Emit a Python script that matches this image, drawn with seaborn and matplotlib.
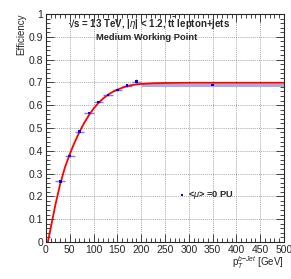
import numpy as np
import matplotlib
matplotlib.use("Agg")
import matplotlib.pyplot as plt
import seaborn as sns
from matplotlib.ticker import MultipleLocator

sns.set_style("ticks")
plt.rcParams['font.family'] = ['Liberation Sans', 'DejaVu Sans']
plt.rcParams['mathtext.fontset'] = 'custom'
plt.rcParams['mathtext.rm'] = 'Liberation Sans:bold'
plt.rcParams['mathtext.it'] = 'Liberation Sans:italic'
plt.rcParams['mathtext.bf'] = 'Liberation Sans:bold'

# ---------- data ----------
pt_center = [30, 50, 70, 90, 110, 130, 150, 170, 190, 350]
pt_halfwidth = [10, 10, 10, 10, 10, 10, 10, 10, 10, 150]
eff = [0.266, 0.376, 0.484, 0.565, 0.613, 0.645, 0.666, 0.685, 0.703, 0.689]
eff_err = [0.004, 0.004, 0.004, 0.004, 0.004, 0.004, 0.004, 0.004, 0.01, 0.002]

fit_pt = [4, 20, 30, 40, 50, 60, 70, 80, 90, 100, 110, 120, 130, 140, 150,
          160, 170, 180, 200, 225, 250, 300, 400, 500]
fit_eff = [0.0, 0.165, 0.255, 0.328, 0.385, 0.436, 0.481, 0.521, 0.555, 0.585,
           0.609, 0.629, 0.645, 0.658, 0.668, 0.676, 0.683, 0.688, 0.693,
           0.696, 0.697, 0.698, 0.698, 0.698]

# ---------- plot ----------
fig = plt.figure(figsize=(2.91, 2.79), dpi=100)
ax = fig.add_axes([0.158, 0.133, 0.818, 0.817])

ax.grid(True, which='major', color='#8a8a8a', linestyle=(0, (1.5, 1.5)), linewidth=0.5)
ax.set_axisbelow(True)

ax.errorbar(pt_center[:-1], eff[:-1], xerr=pt_halfwidth[:-1], yerr=eff_err[:-1],
            fmt='none', ecolor='#7f7fe0', elinewidth=1.0, capsize=0, zorder=3)
ax.errorbar(pt_center[-1:], eff[-1:], xerr=pt_halfwidth[-1:], yerr=eff_err[-1:],
            fmt='none', ecolor='#a9acde', elinewidth=2.2, capsize=0, zorder=3)
sns.lineplot(x=fit_pt, y=fit_eff, color='red', linewidth=1.3, ax=ax, zorder=4)
sns.scatterplot(x=pt_center, y=eff, color='#0000ff', marker='s', s=3.5,
                linewidth=0, edgecolor='none', ax=ax, zorder=5)

ax.set_xlim(0, 500)
ax.set_ylim(0, 1)
ax.xaxis.set_minor_locator(MultipleLocator(10))
ax.yaxis.set_minor_locator(MultipleLocator(0.02))
ax.set_yticks(np.arange(0, 1.01, 0.1))
ax.set_yticklabels(['0', '0.1', '0.2', '0.3', '0.4', '0.5', '0.6', '0.7', '0.8', '0.9', '1'])
ax.set_xticks(np.arange(0, 501, 50))
ax.set_xticklabels([str(v) for v in range(0, 501, 50)])
ax.tick_params(which='both', direction='in', top=True, right=True, labelsize=7.5,
               width=0.6, pad=2)
ax.tick_params(which='major', length=6)
ax.tick_params(which='minor', length=3)
for s in ax.spines.values():
    s.set_linewidth(0.8)

ax.set_ylabel('Efficiency', fontsize=7, loc='top', labelpad=2)
ax.set_xlabel(r'p$_{T}^{b\mathrm{-}Jet}$ [GeV]', fontsize=7, loc='right', labelpad=0,
              fontweight='normal')

ax.text(0.092, 0.956, '\u221As = 13 TeV, |$\\eta$| < 1.2, t$\\bar{\\mathrm{t}}$ lepton+jets',
        transform=ax.transAxes, fontsize=7, fontweight='bold', va='center')
ax.text(0.21, 0.895, 'Medium Working Point', transform=ax.transAxes,
        fontsize=6.7, fontweight='bold', va='center')

ax.scatter([285], [0.206], color='#0000ff', marker='s', s=3.5, linewidths=0, zorder=5)
ax.text(298, 0.206, '<$\\mu$> =0 PU', fontsize=6.7, fontweight='bold', va='center')

fig.savefig('out.png', dpi=100)
